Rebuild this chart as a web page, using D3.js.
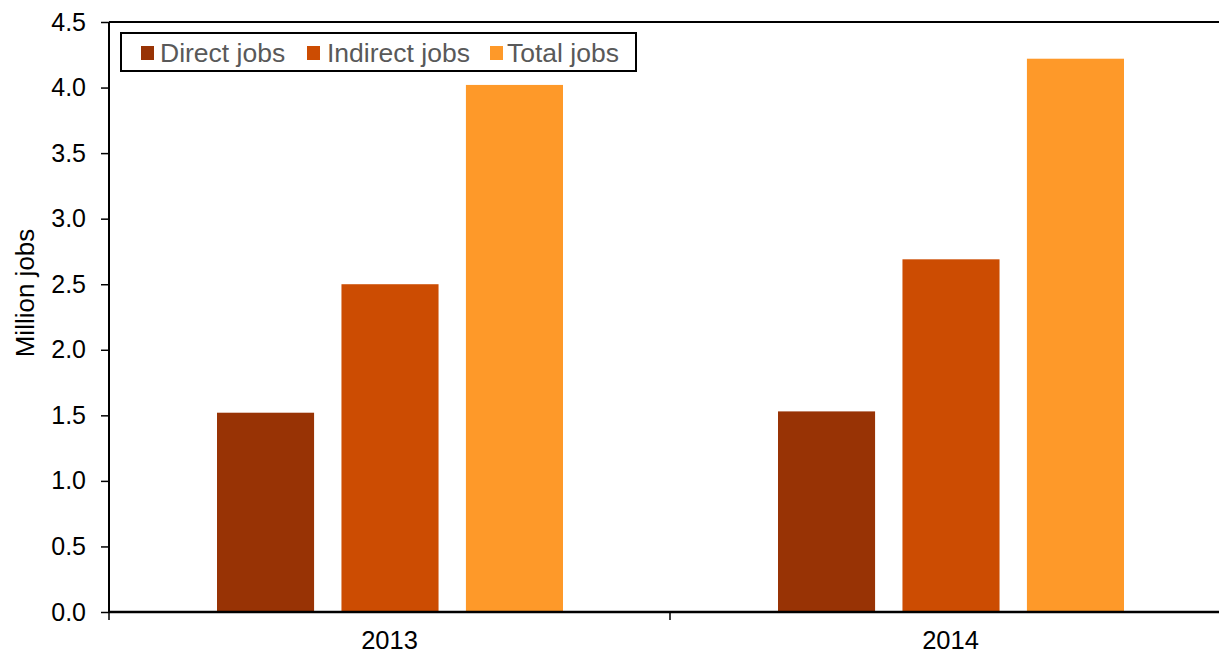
<!DOCTYPE html>
<html><head><meta charset="utf-8">
<script src="https://cdn.jsdelivr.net/npm/d3@7"></script>
<style>body{margin:0;background:#fff}svg{display:block}text{font-family:"Liberation Sans",Arial,sans-serif}</style>
</head><body>
<svg id="c" width="1219" height="653"></svg>
<script>
const categories = ["2013", "2014"];
const seriesNames = ["Direct jobs", "Indirect jobs", "Total jobs"];
const directJobs = [1.52, 1.53];
const indirectJobs = [2.50, 2.69];
const totalJobs = [4.02, 4.22];
const yTicks = [0, 0.5, 1, 1.5, 2, 2.5, 3, 3.5, 4, 4.5];
const colors = ["#983305", "#CC4C02", "#FE9929"];
const yLabel = "Million jobs";

const seriesValues = [directJobs, indirectJobs, totalJobs];
const svg = d3.select("#c");
const L = 109, T = 22, B = 612, R = 1231;

const x = d3.scaleBand().domain(categories).range([L, R]).padding(0);
const xs = d3.scaleBand().domain(seriesNames).range([108, 108 + 346]).paddingInner(0.22).paddingOuter(0);
const y = d3.scaleLinear().domain([0, 4.5]).range([B, T]);

// bars
categories.forEach((c, ci) => {
  seriesNames.forEach((s, si) => {
    svg.append("rect")
      .attr("x", x(c) + xs(s))
      .attr("y", y(seriesValues[si][ci]))
      .attr("width", xs.bandwidth())
      .attr("height", y(0) - y(seriesValues[si][ci]))
      .attr("fill", colors[si]);
  });
});

// top border
svg.append("line").attr("x1", L).attr("x2", 1219).attr("y1", T).attr("y2", T)
  .attr("stroke", "#000").attr("stroke-width", 2);

// y axis
const ya = svg.append("g").attr("transform", `translate(${L},0)`)
  .call(d3.axisLeft(y).tickValues(yTicks).tickFormat(d3.format(".1f")).tickSize(8).tickPadding(15));
ya.select(".domain").attr("stroke", "#000").attr("stroke-width", 2).attr("d", `M0,${T}V${B}`);
ya.selectAll(".tick line").attr("stroke", "#000").attr("stroke-width", 1.5);
ya.selectAll(".tick text").attr("font-size", 25).attr("fill", "#000").attr("font-family", "Liberation Sans, Arial, sans-serif");

// x axis
const xa = svg.append("g").attr("transform", `translate(0,${B})`)
  .call(d3.axisBottom(x).tickSize(0).tickPadding(19));
xa.select(".domain").attr("stroke", "#000").attr("stroke-width", 2.5).attr("d", `M${L},0H1219`);
xa.selectAll(".tick text").attr("font-size", 25.5).attr("fill", "#000").attr("font-family", "Liberation Sans, Arial, sans-serif");
// category boundary ticks
const bounds = [L, L + x.step(), L + 2 * x.step()];
svg.selectAll(".xb").data(bounds).enter().append("line")
  .attr("x1", d => d).attr("x2", d => d).attr("y1", B).attr("y2", B + 8)
  .attr("stroke", "#000").attr("stroke-width", 1.5);

// y label
svg.append("text").attr("transform", `translate(34,293) rotate(-90)`)
  .attr("text-anchor", "middle").attr("font-size", 26).attr("fill", "#000").text(yLabel);

// legend
const lg = svg.append("g");
lg.append("rect").attr("x", 121).attr("y", 33).attr("width", 515).attr("height", 38)
  .attr("fill", "#fff").attr("stroke", "#000").attr("stroke-width", 2);
const legX = [141, 307, 490];
const legTextX = [160, 327, 507];
seriesNames.forEach((s, i) => {
  lg.append("rect").attr("x", legX[i]).attr("y", 46).attr("width", 13).attr("height", 14).attr("fill", colors[i]);
  lg.append("text").attr("x", legTextX[i]).attr("y", 62).attr("font-size", 26.5).attr("fill", "#595959").text(s);
});
</script>
</body></html>
